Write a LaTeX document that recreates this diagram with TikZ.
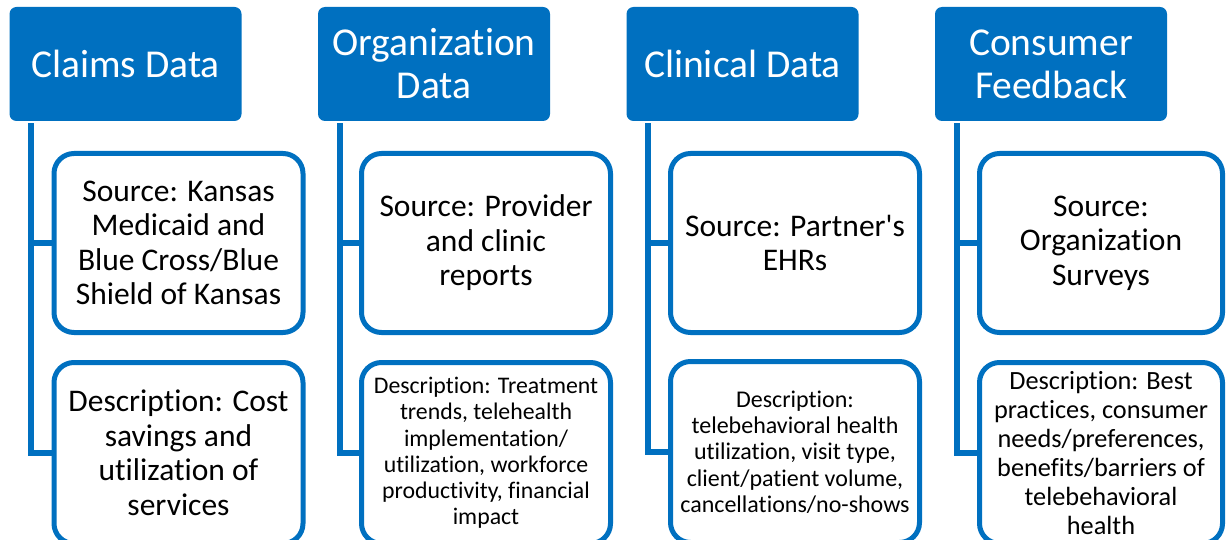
\documentclass[tikz,border=0pt]{standalone}
\usepackage{fontspec}
\setmainfont{Carlito}[Ligatures={TeXOff,NoCommon}]
\definecolor{accent}{RGB}{0,112,192}
\tikzset{
  header/.style={fill=accent, rounded corners=7pt, minimum width=232pt, minimum height=114pt,
    inner sep=0pt, text=white, align=center, font=\fontsize{39.5}{43}\selectfont},
  infobox/.style={draw=accent, line width=5pt, fill=white, rounded corners=20pt,
    minimum width=249pt, inner sep=0pt, align=center, text=black},
  srcbox/.style={infobox, minimum height=179pt},
  descbox/.style={infobox, minimum height=181pt},
  bigtxt/.style={font=\fontsize{31.5}{34.5}\selectfont},
  conn/.style={draw=accent, line width=6pt}
}
\begin{document}
\begin{tikzpicture}[x=1pt, y=-1pt]
\path[use as bounding box, clip] (0,0) rectangle (1226,540);

% column headers
\node[header] (h1) at (125.5,64) {Claims Data};
\node[header] (h2) at (434,64) {Organization\\Data};
\node[header] (h3) at (742.5,64) {Clinical Data};
\node[header] (h4) at (1051,64) {Consumer\\Feedback};

% source boxes
\node[srcbox, bigtxt] (s1) at (178.5,243) {Source: Kansas\\Medicaid and\\Blue Cross/Blue\\Shield of Kansas};
\node[srcbox, bigtxt] (s2) at (486,243) {Source: Provider\\and clinic\\reports};
\node[srcbox, bigtxt] (s3) at (795,243) {Source: Partner's\\EHRs};
\node[srcbox, bigtxt, minimum width=243pt] (s4) at (1101,243) {Source:\\Organization\\Surveys};

% description boxes
\node[descbox, bigtxt] (d1) at (178.5,453) {Description: Cost\\savings and\\utilization of\\services};
\node[descbox, font=\fontsize{23.8}{26.2}\selectfont] (d2) at (486,453)
  {Description: Treatment\\trends, telehealth\\implementation/\\utilization, workforce\\productivity, financial\\impact};
\node[descbox, font=\fontsize{24}{26.3}\selectfont] (d3) at (795,452)
  {Description:\\telebehavioral health\\utilization, visit type,\\client/patient volume,\\cancellations/no-shows};
\node[descbox, minimum width=243pt, font=\fontsize{26.3}{28.9}\selectfont] (d4) at (1101,453)
  {Description: Best\\practices, consumer\\needs/preferences,\\benefits/barriers of\\telebehavioral\\health};

% connectors from each header to its two boxes
\foreach \i in {1,2,3,4}{
  \coordinate (top\i) at ([xshift=22pt, yshift=-2pt]h\i.south west);
  \draw[conn] (top\i) |- (s\i.west);
  \draw[conn] (top\i) |- (d\i.west);
}
\end{tikzpicture}
\end{document}
